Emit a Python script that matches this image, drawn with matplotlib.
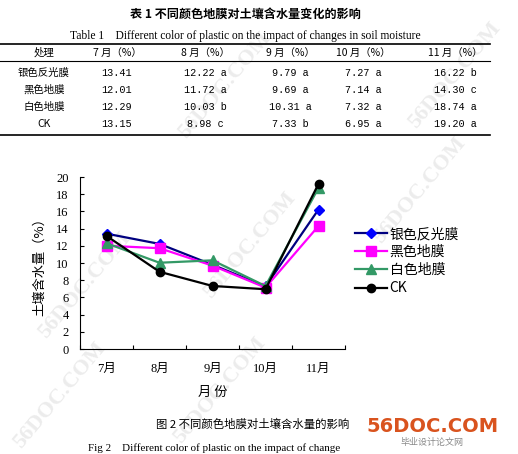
import matplotlib
matplotlib.use("Agg")
import matplotlib.pyplot as plt
from matplotlib.lines import Line2D

# ---------------- data ----------------
months = ["7月", "8月", "9月", "10月", "11月"]
col_headers = ["处理", "7 月（%）", "8 月（%）", "9 月（%）", "10 月（%）", "11 月（%）"]
treatments = ["银色反光膜", "黑色地膜", "白色地膜", "CK"]
silver = [13.41, 12.22, 9.79, 7.27, 16.22]
black = [12.01, 11.72, 9.69, 7.14, 14.30]
white = [12.29, 10.03, 10.31, 7.32, 18.74]
ck = [13.15, 8.98, 7.33, 6.95, 19.20]
letters_silver = ["", "a", "a", "a", "b"]
letters_black = ["", "a", "a", "a", "c"]
letters_white = ["", "b", "a", "a", "a"]
letters_ck = ["", "c", "b", "a", "a"]
yticks = [0, 2, 4, 6, 8, 10, 12, 14, 16, 18, 20]

series = [silver, black, white, ck]
letters = [letters_silver, letters_black, letters_white, letters_ck]

W, H = 518, 454
fig = plt.figure(figsize=(W / 100, H / 100), dpi=100)
fig.patch.set_facecolor("white")

def fx(px):
    return px / W

def fy(py):
    return 1 - py / H

CJK = ["Noto Sans CJK SC", "DejaVu Sans"]
SERIF = ["Liberation Serif", "Noto Sans CJK SC"]
MONO = ["Liberation Mono", "Noto Sans CJK SC"]

# faint watermarks (behind everything)
for (x, y) in [(225, 85), (455, 75), (250, 245), (85, 285), (220, 390), (60, 395), (420, 190)]:
    fig.text(fx(x), fy(y), "56DOC.COM", rotation=50, fontsize=16, color="#ececec",
             family=SERIF, weight="bold", ha="center", va="center", zorder=-5)

# ---------------- table ----------------
fig.text(fx(245), fy(14), "表 1 不同颜色地膜对土壤含水量变化的影响", family=CJK,
         fontsize=8.7, weight="bold", ha="center", va="center")
fig.text(fx(245), fy(36), "Table 1    Different color of plastic on the impact of changes in soil moisture",
         family=SERIF, fontsize=8.3, ha="center", va="center")
for yy, lw in [(44, 1.2), (61, 0.8), (135, 1.2)]:
    fig.add_artist(Line2D([fx(0), fx(490)], [fy(yy), fy(yy)], color="black", lw=lw))

col_x = [44, 117, 205, 290, 363, 455]
for cx, hd in zip(col_x, col_headers):
    fig.text(fx(cx), fy(53), hd, family=CJK, fontsize=7.5, ha="center", va="center")
row_y = [73, 90, 107, 124]
for ry, name, vals, lets in zip(row_y, treatments, series, letters):
    fig.text(fx(col_x[0]), fy(ry), name, family=CJK, fontsize=7.5, ha="center", va="center")
    for cx, v, l in zip(col_x[1:], vals, lets):
        s = f"{v:.2f}" + (f" {l}" if l else "")
        fig.text(fx(cx), fy(ry), s, family=MONO, fontsize=7.3, ha="center", va="center")

# ---------------- chart ----------------
ax = fig.add_axes([fx(80), fy(349), fx(345) - fx(80), fy(177) - fy(349)])
ax.set_facecolor("none")
xs = list(range(len(months)))
styles = [
    dict(color="#000080", marker="D", mfc="#0000ff", mec="#0000ff", ms=5),
    dict(color="#ff00ff", marker="s", mfc="#ff00ff", mec="#ff00ff", ms=6.5),
    dict(color="#339966", marker="^", mfc="#339966", mec="#339966", ms=7),
    dict(color="#000000", marker="o", mfc="#000000", mec="#000000", ms=6),
]
for vals, name, st in zip(series, treatments, styles):
    ax.plot(xs, vals, lw=1.6, label=name, **st)

ax.set_xlim(-0.5, len(months) - 0.5)
ax.set_ylim(0, 20)
ax.set_yticks(yticks)
ax.set_xticks(xs)
ax.set_xticklabels(months, family=SERIF, fontsize=9)
ax.set_xticks([i - 0.5 for i in range(len(months) + 1)], minor=True)
ax.tick_params(axis="x", which="major", length=0, pad=10)
ax.tick_params(axis="x", which="minor", length=3, direction="in", width=0.8)
ax.tick_params(axis="y", length=3, direction="in", width=0.8, pad=8)
for lab in ax.get_yticklabels():
    lab.set_family(SERIF)
    lab.set_fontsize(9)
for s in ["top", "right"]:
    ax.spines[s].set_visible(False)
for s in ["left", "bottom"]:
    ax.spines[s].set_linewidth(0.8)

fig.text(fx(40), fy(264), "土壤含水量（%）", family=CJK, fontsize=9.5, rotation=90,
         ha="center", va="center")
fig.text(fx(213), fy(392), "月 份", family=CJK, fontsize=9.5, ha="center", va="center")

leg = fig.legend(loc="upper left", bbox_to_anchor=(fx(355), fy(227)), frameon=False,
                 prop={"family": CJK, "size": 10}, handlelength=2.3, handletextpad=0.2,
                 labelspacing=0.3, borderpad=0, borderaxespad=0)

# ---------------- captions ----------------
fig.text(fx(253), fy(424), "图 2 不同颜色地膜对土壤含水量的影响", family=CJK,
         fontsize=8.2, ha="center", va="center")
fig.text(fx(214), fy(448), "Fig 2    Different color of plastic on the impact of change",
         family=SERIF, fontsize=7.9, ha="center", va="center")
fig.text(fx(432), fy(426), "56DOC.COM", family=["DejaVu Sans"], fontsize=14,
         weight="bold", color="#d9531e", ha="center", va="center")
fig.text(fx(432), fy(442), "毕业设计论文网", family=CJK, fontsize=6.5, color="#888888",
         ha="center", va="center")

fig.savefig("out.png", dpi=100)
